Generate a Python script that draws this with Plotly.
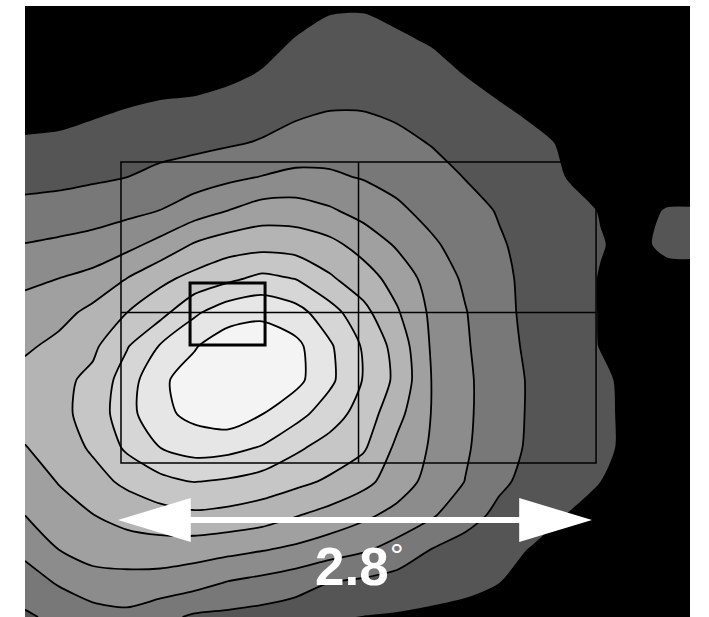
import plotly.graph_objects as go

# Sky grid (degrees) on which the intensity map is sampled
x_deg = [0.0, 0.2, 0.4, 0.6, 0.8, 1.0, 1.2, 1.4, 1.6, 1.8, 2.0,
         2.2, 2.4, 2.6, 2.8, 3.0, 3.2, 3.4, 3.6, 3.8, 4.0]
y_deg = [0.0, 0.2, 0.4, 0.6, 0.8, 1.0, 1.2, 1.4, 1.6, 1.8, 2.0,
         2.2, 2.4, 2.6, 2.8, 3.0, 3.2, 3.4, 3.6, 3.8]

# Intensity in contour-level units, one row per y_deg value (bottom row first)
intensity = [
    [1.85, 2.24, 2.54, 2.74, 2.3, 1.84, 1.75, 1.62, 1.44, 1.1, 0.97, 0.9, 0.8, 0.72, 0.5, 0.2, 0, 0, 0, 0, 0],
    [2.54, 3.08, 3.6, 3.66, 3.58, 3.34, 2.92, 2.68, 2.39, 1.97, 1.79, 1.59, 1.4, 1.22, 1.0, 0.65, 0.3, 0, 0, 0, 0],
    [3.24, 4.01, 4.39, 4.49, 4.55, 4.46, 4.29, 4.07, 3.81, 3.47, 3.13, 2.63, 1.99, 1.64, 1.29, 0.94, 0.6, 0.25, 0, 0, 0],
    [4.0, 4.57, 4.97, 5.37, 5.63, 5.81, 5.69, 5.48, 5.05, 4.64, 4.19, 3.69, 3.12, 2.36, 1.78, 1.38, 0.98, 0.6, 0.25, 0, 0],
    [4.47, 5.05, 5.65, 6.2, 6.7, 7.03, 6.87, 6.58, 6.25, 5.85, 5.28, 4.5, 3.66, 2.98, 2.17, 1.71, 1.35, 1.0, 0.65, 0.3, 0],
    [4.95, 5.51, 6.13, 7.16, 8.0, 8.4, 8.3, 7.92, 7.17, 6.61, 6.13, 4.77, 3.89, 3.13, 2.38, 1.83, 1.49, 1.15, 0.8, 0.45, 0.1],
    [5.45, 5.77, 6.33, 7.64, 8.75, 9.27, 9.6, 9.02, 8.35, 7.47, 6.57, 5.29, 3.98, 3.19, 2.43, 1.86, 1.51, 1.15, 0.8, 0.45, 0.1],
    [5.4, 5.73, 6.25, 7.48, 8.86, 9.35, 9.75, 9.55, 9.28, 8.22, 6.94, 5.75, 4.0, 3.19, 2.45, 1.86, 1.5, 1.14, 0.77, 0.4, 0.1],
    [4.83, 5.28, 5.79, 6.91, 8.08, 8.93, 9.5, 9.55, 9.25, 8.14, 6.88, 5.61, 3.91, 3.12, 2.36, 1.78, 1.37, 0.97, 0.6, 0.3, 0.2],
    [4.36, 4.65, 5.27, 5.98, 6.67, 7.82, 8.6, 8.8, 8.36, 7.41, 6.28, 5.09, 3.82, 3.05, 2.27, 1.74, 1.35, 0.96, 0.6, 0.4, 0.4],
    [3.8, 4.0, 4.29, 5.0, 5.75, 6.29, 6.77, 7.24, 6.96, 6.13, 5.44, 4.59, 3.6, 2.85, 2.21, 1.74, 1.34, 0.96, 0.65, 0.7, 0.7],
    [3.03, 3.18, 3.36, 3.7, 4.31, 5.09, 5.53, 5.64, 5.55, 5.26, 4.62, 3.87, 3.15, 2.6, 2.09, 1.71, 1.35, 1.04, 0.78, 1.2, 1.2],
    [2.3, 2.39, 2.54, 2.75, 3.02, 3.54, 4.01, 4.49, 4.48, 4.13, 3.64, 3.17, 2.71, 2.31, 1.94, 1.61, 1.28, 0.96, 0.8, 1.05, 1.05],
    [1.67, 1.73, 1.85, 1.99, 2.25, 2.48, 2.77, 3.03, 3.23, 3.14, 2.93, 2.68, 2.34, 1.97, 1.65, 1.33, 0.98, 0.77, 0.55, 0.6, 0.55],
    [1.13, 1.19, 1.34, 1.51, 1.65, 1.75, 1.89, 2.08, 2.37, 2.52, 2.44, 2.23, 1.96, 1.65, 1.36, 1.17, 0.9, 0.63, 0.3, 0.3, 0.3],
    [0.58, 0.65, 0.84, 1.01, 1.14, 1.2, 1.36, 1.56, 1.8, 1.97, 1.97, 1.82, 1.63, 1.32, 1.08, 0.85, 0.6, 0.24, 0, 0, 0],
    [0.03, 0.11, 0.33, 0.52, 0.62, 0.67, 0.83, 1.07, 1.43, 1.62, 1.63, 1.48, 1.29, 0.99, 0.75, 0.51, 0.15, 0, 0, 0, 0],
    [0, 0, 0, 0, 0, 0.1, 0.27, 0.7, 1.06, 1.27, 1.29, 1.13, 0.94, 0.66, 0.41, 0.17, 0, 0, 0, 0, 0],
    [0, 0, 0, 0, 0, 0, 0, 0.1, 0.64, 0.92, 0.94, 0.77, 0.56, 0.2, 0, 0, 0, 0, 0, 0, 0],
    [0, 0, 0, 0, 0, 0, 0, 0, 0.2, 0.58, 0.6, 0.42, 0.19, 0, 0, 0, 0, 0, 0, 0, 0],
]

# Grey for each band: below first level, then level 1-2, ..., above level 9
band_greys = ["#000000", "#555555", "#787878", "#8c8c8c", "#a0a0a0",
              "#b4b4b4", "#c6c6c6", "#d6d6d6", "#e6e6e6", "#f4f4f4"]

scale_text = "2.8"
arrow_length_deg = 2.8

n = len(band_greys) - 1
grey_scale = [[i / n, c] for i, c in enumerate(band_greys)]
smooth = 0.7

fig = go.Figure()

# Filled bands (no outlines)
fig.add_trace(go.Contour(
    x=x_deg, y=y_deg, z=intensity,
    contours=dict(start=1, end=9, size=1, coloring="fill", showlines=False),
    colorscale=grey_scale, showscale=False,
    line=dict(width=0, smoothing=smooth),
    hoverinfo="skip",
))

# Contour lines from the second level upward
fig.add_trace(go.Contour(
    x=x_deg, y=y_deg, z=intensity,
    contours=dict(start=2, end=9, size=1, coloring="none"),
    line=dict(color="black", width=1.8, smoothing=smooth),
    showscale=False, hoverinfo="skip",
))

# Field boxes
bx0, bx1, by0, by1 = 0.567, 3.373, 0.910, 2.688
bxm, bym = (bx0 + bx1) / 2, (by0 + by1) / 2
thin = dict(color="black", width=1.5)
shapes = [
    dict(type="rect", x0=bx0, x1=bx1, y0=by0, y1=by1, line=thin),
    dict(type="line", x0=bxm, x1=bxm, y0=by0, y1=by1, line=thin),
    dict(type="line", x0=bx0, x1=bx1, y0=bym, y1=bym, line=thin),
    dict(type="rect", x0=0.975, x1=1.418, y0=1.607, y1=1.973,
         line=dict(color="black", width=3)),
]

# Double-headed scale arrow
ax0 = 0.549
ax1 = ax0 + arrow_length_deg
ay = 0.573
head_len, head_half = 0.43, 0.13
shapes += [
    dict(type="line", x0=ax0 + head_len * 0.9, x1=ax1 - head_len * 0.9, y0=ay, y1=ay,
         line=dict(color="white", width=6)),
    dict(type="path",
         path=f"M {ax0},{ay} L {ax0 + head_len},{ay + head_half} L {ax0 + head_len},{ay - head_half} Z",
         fillcolor="white", line=dict(width=0)),
    dict(type="path",
         path=f"M {ax1},{ay} L {ax1 - head_len},{ay + head_half} L {ax1 - head_len},{ay - head_half} Z",
         fillcolor="white", line=dict(width=0)),
]

annotations = [
    dict(x=1.929, y=0.301, xref="x", yref="y", text=f"<b>{scale_text}</b>", showarrow=False,
         xanchor="center", yanchor="middle",
         font=dict(family="Liberation Sans, Arial, sans-serif", size=53, color="white")),
    dict(x=2.197, y=0.366, xref="x", yref="y", text="°", showarrow=False,
         xanchor="center", yanchor="middle",
         font=dict(family="Liberation Sans, Arial, sans-serif", size=34, color="white")),
]

fig.update_layout(
    width=709, height=617,
    margin=dict(l=25, r=19, t=6, b=0),
    paper_bgcolor="white", plot_bgcolor="black",
    xaxis=dict(range=[0, 3.928], visible=False, showgrid=False, zeroline=False),
    yaxis=dict(range=[0, 3.609], visible=False, showgrid=False, zeroline=False),
    shapes=shapes, annotations=annotations,
    showlegend=False,
)

fig.write_html("out.html")
